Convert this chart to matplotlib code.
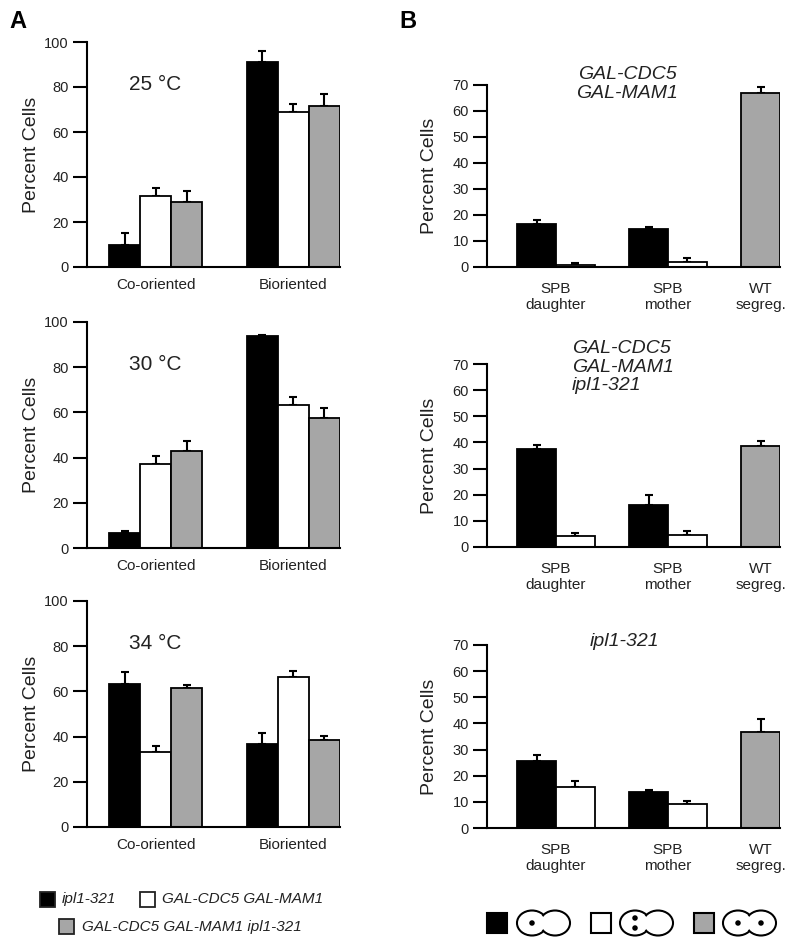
import matplotlib
matplotlib.use("Agg")
import matplotlib.pyplot as plt
from matplotlib.patches import Rectangle, Ellipse
import numpy as np

plt.rcParams['font.family'] = ['Liberation Sans', 'DejaVu Sans']

# ---------------- data ----------------
strains = ["ipl1-321", "GAL-CDC5 GAL-MAM1", "GAL-CDC5 GAL-MAM1 ipl1-321"]
colors = ["#000000", "#ffffff", "#a6a6a6"]

a_categories = ["Co-oriented", "Bioriented"]
a_temps = ["25 °C", "30 °C", "34 °C"]
# rows: ipl1-321, GAL-CDC5 GAL-MAM1, GAL-CDC5 GAL-MAM1 ipl1-321 ; cols: Co, Bi
a25_vals = [[10.0, 91.0], [31.5, 69.0], [29.0, 71.5]]
a25_err = [[5.0, 5.0], [3.5, 3.5], [5.0, 5.5]]
a30_vals = [[6.8, 93.6], [37.0, 63.2], [42.8, 57.4]]
a30_err = [[0.7, 0.5], [3.8, 3.7], [4.5, 4.6]]
a34_vals = [[63.4, 36.7], [33.3, 66.5], [61.4, 38.6]]
a34_err = [[5.2, 5.0], [2.7, 2.7], [1.6, 1.8]]

b_categories = ["SPB\ndaughter", "SPB\nmother", "WT\nsegreg."]
b_titles = ["GAL-CDC5\nGAL-MAM1", "GAL-CDC5\nGAL-MAM1\nipl1-321", "ipl1-321"]
# black: SPB daughter / SPB mother ; white: same ; gray: WT segreg.
b1_black = [16.6, 14.6]; b1_black_err = [1.6, 0.6]
b1_white = [0.8, 2.0];   b1_white_err = [0.7, 1.3]
b1_gray = [66.8];        b1_gray_err = [2.3]
b2_black = [37.3, 16.2]; b2_black_err = [1.8, 3.6]
b2_white = [4.1, 4.5];   b2_white_err = [1.1, 1.8]
b2_gray = [38.8];        b2_gray_err = [1.6]
b3_black = [25.8, 13.6]; b3_black_err = [2.2, 1.0]
b3_white = [15.5, 9.2];  b3_white_err = [2.3, 1.1]
b3_gray = [36.6];        b3_gray_err = [5.1]

TXT = "#222222"
W, H = 800, 952
fig = plt.figure(figsize=(W / 100, H / 100), dpi=100)


def px_axes(left, top, right, bottom):
    return fig.add_axes([left / W, 1 - bottom / H, (right - left) / W, (bottom - top) / H])


def style(ax, ymax, step, pad):
    for s in ["top", "right"]:
        ax.spines[s].set_visible(False)
    for s in ["left", "bottom"]:
        ax.spines[s].set_linewidth(1.5)
    ax.set_ylim(0, ymax)
    ax.set_yticks(np.arange(0, ymax + 1, step))
    ax.tick_params(axis="y", length=10, width=1.5, pad=3, labelsize=10.5, labelcolor=TXT)
    ax.tick_params(axis="x", length=0, pad=pad, labelsize=11, labelcolor=TXT)
    ax.set_ylabel("Percent Cells", fontsize=14, color=TXT)


def bars(ax, x, vals, errs, color):
    ax.bar(x, vals, width=1.0, color=color, edgecolor="black", linewidth=1.3, zorder=2)
    ax.errorbar(x, vals, yerr=[np.zeros(len(vals)), errs], fmt="none", ecolor="black",
                elinewidth=1.5, capsize=3, capthick=1.5, zorder=1)


# ---------------- panel A ----------------
a_data = [(a25_vals, a25_err), (a30_vals, a30_err), (a34_vals, a34_err)]
a_boxes = [(42, 267), (322, 548), (601, 827)]
a_centers = np.array([0.0, 4.45])
for i, ((vals, errs), (top, bot)) in enumerate(zip(a_data, a_boxes)):
    ax = px_axes(87, top, 340, bot)
    for j in range(3):
        bars(ax, a_centers + (j - 1), vals[j], errs[j], colors[j])
    ax.set_xlim(-2.21, 5.95)
    ax.set_xticks(a_centers)
    ax.set_xticklabels(a_categories)
    style(ax, 100, 20, 8)
    ax.yaxis.set_label_coords(-0.186, 0.5)
    ax.text(0.27, 0.81, a_temps[i], transform=ax.transAxes, ha="center", va="center",
            fontsize=15, color=TXT)

# ---------------- panel B ----------------
b_data = [
    (b1_black, b1_black_err, b1_white, b1_white_err, b1_gray, b1_gray_err),
    (b2_black, b2_black_err, b2_white, b2_white_err, b2_gray, b2_gray_err),
    (b3_black, b3_black_err, b3_white, b3_white_err, b3_gray, b3_gray_err),
]
b_boxes = [(85, 267), (364, 547), (645, 828)]
b_centers = np.array([0.0, 2.89, 5.28])
for i, (d, (top, bot)) in enumerate(zip(b_data, b_boxes)):
    ax = px_axes(487, top, 780, bot)
    bk, bke, wh, whe, gr, gre = d
    bars(ax, b_centers[:2] - 0.5, bk, bke, colors[0])
    bars(ax, b_centers[:2] + 0.5, wh, whe, colors[1])
    bars(ax, b_centers[2:], gr, gre, colors[2])
    ax.set_xlim(-1.78, 5.78)
    ax.set_xticks(b_centers)
    ax.set_xticklabels(b_categories)
    style(ax, 70, 10, 11)
    ax.yaxis.set_label_coords(-0.167, 0.5)

# ---------------- overlay: titles, letters, legends ----------------
ov = fig.add_axes([0, 0, 1, 1])
ov.set_xlim(0, W)
ov.set_ylim(H, 0)
ov.axis("off")
ov.patch.set_visible(False)

ov.text(9, 22, "A", fontsize=17, fontweight="bold", ha="left", va="center", color="black")
ov.text(399, 22, "B", fontsize=17, fontweight="bold", ha="left", va="center", color="black")

ov.text(627, 84, b_titles[0], fontsize=14, style="italic", ha="center", va="center",
        color=TXT, linespacing=1.15)
ov.text(572, 367, b_titles[1], fontsize=14, style="italic", ha="left", va="center",
        color=TXT, linespacing=1.15)
ov.text(624, 642, b_titles[2], fontsize=14, style="italic", ha="center", va="center",
        color=TXT)

# legend A
leg_a = [(40, 892, 62, 899), (140, 892, 162, 899), (59, 919, 82, 927)]
for (sx, sy, tx, ty), lab, c in zip(leg_a, strains, colors):
    ov.add_patch(Rectangle((sx, sy), 15, 15, facecolor=c, edgecolor="#222222", linewidth=1.3))
    ov.text(tx, ty, lab, fontsize=11, style="italic", ha="left", va="center", color=TXT)

# legend B: colour squares and cell icons
sq_x = [487, 591, 694]
ic_x = [517, 620, 723]
dots = [[(15, 0)], [(15, -5), (15, 5)], [(15, 0), (38, 0)]]
cy = 923
for c, sx, ix, dd in zip(colors, sq_x, ic_x, dots):
    ov.add_patch(Rectangle((sx, 913), 20, 20, facecolor=c, edgecolor="black", linewidth=1.5))
    lc = (ix + 15, cy)
    rc = (ix + 38, cy)
    for ctr in (lc, rc):
        ov.add_patch(Ellipse(ctr, 30, 25, facecolor="white", edgecolor="black", linewidth=1.5))
    for ctr in (lc, rc):
        ov.add_patch(Ellipse(ctr, 27, 22, facecolor="white", edgecolor="none"))
    for dx, dy in dd:
        ov.add_patch(Ellipse((ix + dx, cy + dy), 5.5, 5.5, facecolor="black", edgecolor="none"))

fig.savefig("out.png", dpi=100)
